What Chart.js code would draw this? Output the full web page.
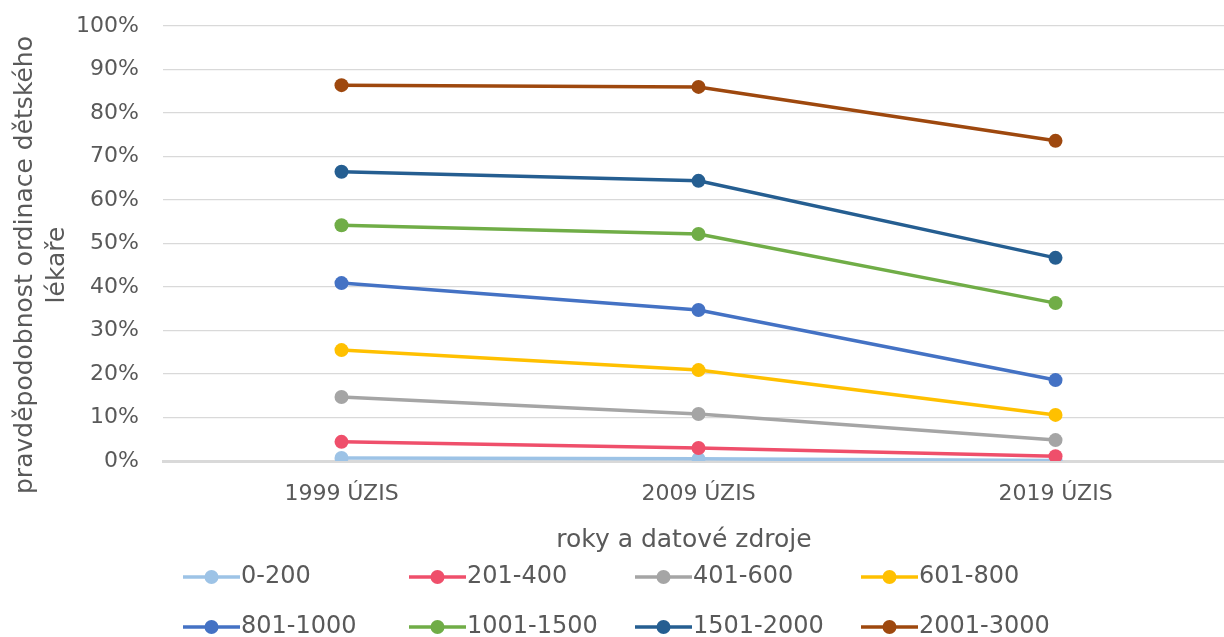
<!DOCTYPE html>
<html><head><meta charset="utf-8">
<script src="https://cdn.jsdelivr.net/npm/chart.js@4.4.1/dist/chart.umd.min.js"></script>
<style>
html,body{margin:0;padding:0;background:#fff;overflow:hidden;width:1224px;height:637px}
#wrap{width:1234px;height:637px;position:relative}
</style></head><body>
<div id="wrap"><canvas id="c"></canvas></div>
<script>
const categories = ['1999 ÚZIS', '2009 ÚZIS', '2019 ÚZIS'];
const seriesNames = ['0-200', '201-400', '401-600', '601-800', '801-1000', '1001-1500', '1501-2000', '2001-3000'];
const s0_200 = [0.7, 0.5, 0.1];
const s201_400 = [4.4, 3.0, 1.1];
const s401_600 = [14.7, 10.8, 4.8];
const s601_800 = [25.5, 20.9, 10.6];
const s801_1000 = [40.9, 34.7, 18.6];
const s1001_1500 = [54.2, 52.2, 36.3];
const s1501_2000 = [66.5, 64.4, 46.7];
const s2001_3000 = [86.4, 86.0, 73.6];
const yTicks = [0,10,20,30,40,50,60,70,80,90,100];
const yTitle = ['pravděpodobnost ordinace dětského', 'lékaře'];
const xTitle = 'roky a datové zdroje';

const values = [s0_200, s201_400, s401_600, s601_800, s801_1000, s1001_1500, s1501_2000, s2001_3000];
const colors = ['#9DC3E6', '#EF4F6B', '#A5A5A5', '#FFC000', '#4472C4', '#70AD47', '#255E91', '#9E480E'];
const FONT = '"DejaVu Sans", sans-serif';
const TXT = '#595959';

const datasets = values.map((v, i) => ({
  label: seriesNames[i],
  data: v,
  borderColor: colors[i],
  backgroundColor: colors[i],
  pointBackgroundColor: colors[i],
  pointBorderColor: colors[i],
  borderWidth: 3.5,
  pointRadius: 7,
  pointBorderWidth: 0,
  tension: 0,
  order: values.length - i
}));

const extras = {
  id: 'extras',
  afterDraw(chart) {
    const ctx = chart.ctx;
    ctx.save();
    ctx.fillStyle = TXT;
    ctx.font = '25px ' + FONT;
    ctx.textAlign = 'center';
    ctx.textBaseline = 'middle';
    ctx.save();
    ctx.translate(41, 265);
    ctx.rotate(-Math.PI / 2);
    ctx.fillText(yTitle[0], 0, -16);
    ctx.fillText(yTitle[1], 0, 16);
    ctx.restore();
    ctx.fillText(xTitle, 684, 540);
    ctx.textAlign = 'left';
    ctx.font = '24px ' + FONT;
    chart.data.datasets.forEach((ds, i) => {
      const col = i % 4, row = Math.floor(i / 4);
      const x = 183 + col * 226, y = 577 + row * 50;
      ctx.strokeStyle = ds.borderColor;
      ctx.lineWidth = 3.5;
      ctx.beginPath(); ctx.moveTo(x, y); ctx.lineTo(x + 57, y); ctx.stroke();
      ctx.fillStyle = ds.borderColor;
      ctx.beginPath(); ctx.arc(x + 28.5, y, 7, 0, Math.PI * 2); ctx.fill();
      ctx.fillStyle = TXT;
      ctx.fillText(ds.label, x + 58, y);
    });
    ctx.restore();
  }
};

new Chart(document.getElementById('c'), {
  type: 'line',
  data: { labels: categories, datasets },
  options: {
    responsive: true,
    maintainAspectRatio: false,
    animation: false,
    layout: { autoPadding: false, padding: { top: 26, left: 0, right: 0, bottom: 0 } },
    plugins: { legend: { display: false }, tooltip: { enabled: false } },
    scales: {
      x: {
        offset: true,
        grid: { display: false, drawTicks: false },
        border: { display: true, color: '#D9D9D9', width: 3 },
        ticks: { color: TXT, font: { family: FONT, size: 22 }, padding: 20 },
        afterFit(s) { s.height = 637 - 461; }
      },
      y: {
        min: 0, max: 100,
        afterBuildTicks(s) { s.ticks = yTicks.map(v => ({ value: v })); },
        grid: { color: '#D9D9D9', lineWidth: 1.2, drawTicks: false },
        border: { display: false },
        ticks: { color: TXT, font: { family: FONT, size: 22, lineHeight: 0.05 }, padding: 24, callback: v => v + '%' },
        afterFit(s) { s.width = 163; }
      }
    }
  },
  plugins: [extras]
});
</script>
</body></html>
